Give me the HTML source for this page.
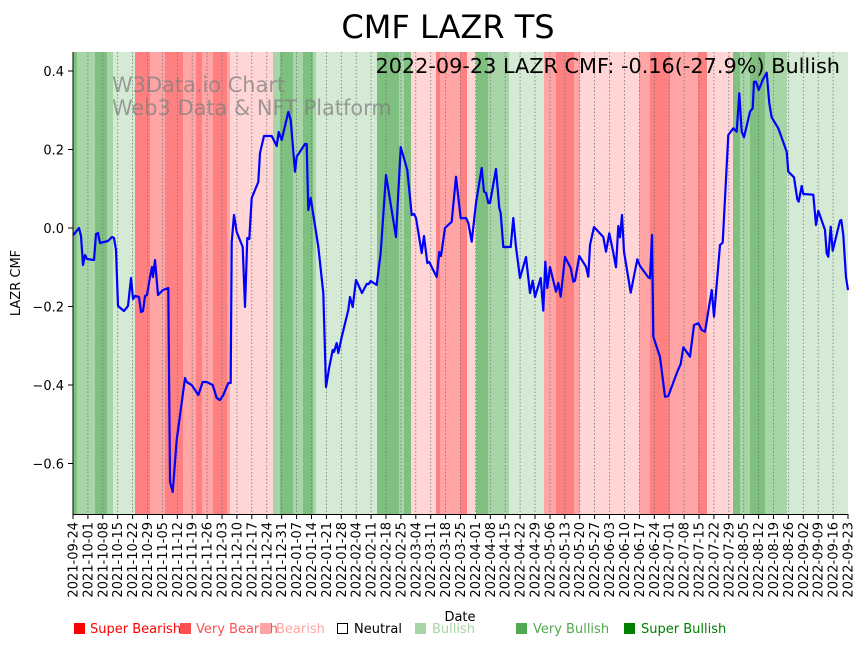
<!DOCTYPE html>
<html><head><meta charset="utf-8"><style>
html,body{margin:0;padding:0;background:#fff;}
svg{display:block;font-family:"DejaVu Sans","Liberation Sans",sans-serif;}
</style></head><body>
<svg width="864" height="646" viewBox="0 0 864 646" xmlns="http://www.w3.org/2000/svg">
<rect width="864" height="646" fill="#fff"/>
<text x="448" y="38" font-size="32" text-anchor="middle">CMF LAZR TS</text>
<g shape-rendering="crispEdges">
<rect x="73" y="52" width="4" height="462" fill="#7fbf7f"/>
<rect x="77" y="52" width="18" height="462" fill="#a8d5a8"/>
<rect x="95" y="52" width="12" height="462" fill="#7fbf7f"/>
<rect x="107" y="52" width="6" height="462" fill="#a8d5a8"/>
<rect x="113" y="52" width="22" height="462" fill="#d5ead5"/>
<rect x="135" y="52" width="15" height="462" fill="#ff8080"/>
<rect x="150" y="52" width="15" height="462" fill="#ffa5a5"/>
<rect x="165" y="52" width="18" height="462" fill="#ff8080"/>
<rect x="183" y="52" width="13" height="462" fill="#ffa5a5"/>
<rect x="196" y="52" width="6" height="462" fill="#ff8080"/>
<rect x="202" y="52" width="11" height="462" fill="#ffa5a5"/>
<rect x="213" y="52" width="14" height="462" fill="#ff8080"/>
<rect x="227" y="52" width="3" height="462" fill="#ffa5a5"/>
<rect x="230" y="52" width="43" height="462" fill="#ffd5d5"/>
<rect x="273" y="52" width="7" height="462" fill="#a8d5a8"/>
<rect x="280" y="52" width="13" height="462" fill="#7fbf7f"/>
<rect x="293" y="52" width="10" height="462" fill="#a8d5a8"/>
<rect x="303" y="52" width="10" height="462" fill="#7fbf7f"/>
<rect x="313" y="52" width="3" height="462" fill="#a8d5a8"/>
<rect x="316" y="52" width="61" height="462" fill="#d5ead5"/>
<rect x="377" y="52" width="22" height="462" fill="#7fbf7f"/>
<rect x="399" y="52" width="5" height="462" fill="#a8d5a8"/>
<rect x="404" y="52" width="7" height="462" fill="#7fbf7f"/>
<rect x="411" y="52" width="25" height="462" fill="#ffd5d5"/>
<rect x="436" y="52" width="4" height="462" fill="#ff8080"/>
<rect x="440" y="52" width="20" height="462" fill="#ffa5a5"/>
<rect x="460" y="52" width="7" height="462" fill="#ff8080"/>
<rect x="467" y="52" width="9" height="462" fill="#ffd5d5"/>
<rect x="476" y="52" width="12" height="462" fill="#7fbf7f"/>
<rect x="488" y="52" width="21" height="462" fill="#a8d5a8"/>
<rect x="509" y="52" width="35" height="462" fill="#d5ead5"/>
<rect x="544" y="52" width="12" height="462" fill="#ffa5a5"/>
<rect x="556" y="52" width="18" height="462" fill="#ff8080"/>
<rect x="574" y="52" width="6" height="462" fill="#ffa5a5"/>
<rect x="580" y="52" width="59" height="462" fill="#ffd5d5"/>
<rect x="639" y="52" width="11" height="462" fill="#ffa5a5"/>
<rect x="650" y="52" width="20" height="462" fill="#ff8080"/>
<rect x="670" y="52" width="28" height="462" fill="#ffa5a5"/>
<rect x="698" y="52" width="9" height="462" fill="#ff8080"/>
<rect x="707" y="52" width="26" height="462" fill="#ffd5d5"/>
<rect x="733" y="52" width="7" height="462" fill="#7fbf7f"/>
<rect x="740" y="52" width="10" height="462" fill="#a8d5a8"/>
<rect x="750" y="52" width="15" height="462" fill="#7fbf7f"/>
<rect x="765" y="52" width="22" height="462" fill="#a8d5a8"/>
<rect x="787" y="52" width="61" height="462" fill="#d5ead5"/>
</g>
<g stroke="#777" stroke-width="0.8" stroke-dasharray="1.5,2">
<path d="M87.9 52V514M102.8 52V514M117.7 52V514M132.6 52V514M147.5 52V514M162.4 52V514M177.3 52V514M192.2 52V514M207.1 52V514M222 52V514M236.9 52V514M251.8 52V514M266.8 52V514M281.7 52V514M296.6 52V514M311.5 52V514M326.4 52V514M341.3 52V514M356.2 52V514M371.1 52V514M386 52V514M400.9 52V514M415.8 52V514M430.7 52V514M445.6 52V514M460.5 52V514M475.4 52V514M490.3 52V514M505.2 52V514M520.1 52V514M535 52V514M550 52V514M564.8 52V514M579.7 52V514M594.6 52V514M609.5 52V514M624.4 52V514M639.4 52V514M654.3 52V514M669.2 52V514M684.1 52V514M699 52V514M713.9 52V514M728.8 52V514M743.7 52V514M758.6 52V514M773.5 52V514M788.4 52V514M803.3 52V514M818.2 52V514M833.1 52V514"/>
</g>
<g fill="#808080" fill-opacity="0.75" font-size="20.9">
<text x="112" y="92">W3Data.io Chart</text>
<text x="112" y="115">Web3 Data &amp; NFT Platform</text>
</g>
<text x="840" y="73" font-size="20.8" text-anchor="end">2022-09-23 LAZR CMF: -0.16(-27.9%) Bullish</text>
<polyline fill="none" stroke="#0000ff" stroke-width="2.2" stroke-linejoin="round" points="73.3,235 79,228 81,236 83,265 85,255 87,259 94,260 96,234 98,233 100,243 108,241 112,237 114,238 116,250 118,306 124,311 128,306 131,278 133,299 135,296 139,297 141,312 143,311 145,296 147,295 150,277 152,267 153,277 155,260 158,295 163,290 168.3,288 170,482 172.7,492 176.7,440 185,378 186.7,382 191.7,385 198.3,395 202.7,382 206.7,382 212.7,385 216.7,398 220,400 223.3,395 228.3,383 230.7,383 231.7,242 234,215 236.7,232 242.7,247 245,307 247.3,238 249.3,239 251.7,198 258.3,182 260,153 264,136 271.7,136 276.7,146 278.7,132 281.7,140 288.3,112 290.7,120 295,171.7 296.7,156.7 305,144 306.7,144 308.3,210 310.7,198 318.3,246.7 323.3,293 326,387 329.3,367 332.7,350 334,352 336.7,343 338.3,353 341.7,337 348.3,310 350,297 352.7,307 356,280 362,293 366.7,284 368.7,284 370.7,281 376.7,285 380.7,253 386,175 396,237 400.7,147 407.3,170 411.7,215 414,214 416,218 421.7,253 424,236 427.3,263 429.3,262 431.7,267 436.7,277 439.3,252 441,256 445,228 451.7,221.7 456,176.7 460.7,218.3 466,218 468.3,223 471.7,241.7 476,203 481.7,168 484,191.7 486,192.7 488.3,203 490,203 496,169 499.3,208 500.7,213 503.3,247 510.7,247 513.3,218 516,247 520,278 526,257 530,293 532.7,280.7 535,297 540.7,278 543.3,310.7 545.3,261.7 547.3,288 550,267 556,291.7 558.3,283 560.7,296.7 565,257 570.7,268 573.3,281.7 575,280.7 579.3,256 586,266.7 588.3,276.7 590,245 594,227 603.3,237 606,251.7 609.3,233.3 613.3,252.7 616,267.3 618.3,226 620,237.3 622,215 624,251.7 630.7,292.7 637.3,259.3 640,266 648.3,277.3 650,278.3 652,235 653.3,336.7 660,357 665,396.7 668.3,396 677.3,371.7 680.7,364 683.3,347.3 690,356.7 694,325 698.3,323.3 701.7,330 705,331.7 709.3,305 711.7,290 714,316.7 720,245 722.7,242.7 728.3,135 733.3,128.3 736.7,131.7 739.3,93.3 741.7,131.7 744,137.3 750,111.7 752.7,108.3 754,81.7 756,81.7 758.7,90 762.7,80 766.7,72.7 769.3,103.3 771.7,117.3 778.3,128.3 786.7,151.7 788.3,171.7 794,177.3 797.3,199.3 798.7,201.7 801.7,186 803.3,194 813.3,194.7 816,225 818.3,210.7 825,230 826.7,253.3 828.3,256.7 830.7,226.7 832.7,250.7 840,220.7 841.3,220 843.3,235 846,277.3 848,290"/>
<g stroke="#000" stroke-width="1" fill="none">
<path d="M73 52V514.5H848"/>
<path d="M68 71H73M68 149.5H73M68 228H73M68 306.5H73M68 385H73M68 463.5H73"/>
<path d="M73 514V519M87.9 514V519M102.8 514V519M117.7 514V519M132.6 514V519M147.5 514V519M162.4 514V519M177.3 514V519M192.2 514V519M207.1 514V519M222 514V519M236.9 514V519M251.8 514V519M266.8 514V519M281.7 514V519M296.6 514V519M311.5 514V519M326.4 514V519M341.3 514V519M356.2 514V519M371.1 514V519M386 514V519M400.9 514V519M415.8 514V519M430.7 514V519M445.6 514V519M460.5 514V519M475.4 514V519M490.3 514V519M505.2 514V519M520.1 514V519M535 514V519M550 514V519M564.8 514V519M579.7 514V519M594.6 514V519M609.5 514V519M624.4 514V519M639.4 514V519M654.3 514V519M669.2 514V519M684.1 514V519M699 514V519M713.9 514V519M728.8 514V519M743.7 514V519M758.6 514V519M773.5 514V519M788.4 514V519M803.3 514V519M818.2 514V519M833.1 514V519M848 514V519"/>
</g>
<g font-size="13" text-anchor="end">
<text x="64" y="76">0.4</text>
<text x="64" y="154.5">0.2</text>
<text x="64" y="233">0.0</text>
<text x="64" y="311.5">−0.2</text>
<text x="64" y="390">−0.4</text>
<text x="64" y="468.5">−0.6</text>
</g>
<text transform="translate(20,283) rotate(-90)" font-size="13" text-anchor="middle">LAZR CMF</text>
<g font-size="13" text-anchor="end">
<text transform="translate(77.5,522) rotate(-90)">2021-09-24</text>
<text transform="translate(92.4,522) rotate(-90)">2021-10-01</text>
<text transform="translate(107.3,522) rotate(-90)">2021-10-08</text>
<text transform="translate(122.2,522) rotate(-90)">2021-10-15</text>
<text transform="translate(137.1,522) rotate(-90)">2021-10-22</text>
<text transform="translate(152,522) rotate(-90)">2021-10-29</text>
<text transform="translate(166.9,522) rotate(-90)">2021-11-05</text>
<text transform="translate(181.8,522) rotate(-90)">2021-11-12</text>
<text transform="translate(196.7,522) rotate(-90)">2021-11-19</text>
<text transform="translate(211.6,522) rotate(-90)">2021-11-26</text>
<text transform="translate(226.5,522) rotate(-90)">2021-12-03</text>
<text transform="translate(241.4,522) rotate(-90)">2021-12-10</text>
<text transform="translate(256.3,522) rotate(-90)">2021-12-17</text>
<text transform="translate(271.3,522) rotate(-90)">2021-12-24</text>
<text transform="translate(286.2,522) rotate(-90)">2021-12-31</text>
<text transform="translate(301.1,522) rotate(-90)">2022-01-07</text>
<text transform="translate(316,522) rotate(-90)">2022-01-14</text>
<text transform="translate(330.9,522) rotate(-90)">2022-01-21</text>
<text transform="translate(345.8,522) rotate(-90)">2022-01-28</text>
<text transform="translate(360.7,522) rotate(-90)">2022-02-04</text>
<text transform="translate(375.6,522) rotate(-90)">2022-02-11</text>
<text transform="translate(390.5,522) rotate(-90)">2022-02-18</text>
<text transform="translate(405.4,522) rotate(-90)">2022-02-25</text>
<text transform="translate(420.3,522) rotate(-90)">2022-03-04</text>
<text transform="translate(435.2,522) rotate(-90)">2022-03-11</text>
<text transform="translate(450.1,522) rotate(-90)">2022-03-18</text>
<text transform="translate(465,522) rotate(-90)">2022-03-25</text>
<text transform="translate(479.9,522) rotate(-90)">2022-04-01</text>
<text transform="translate(494.8,522) rotate(-90)">2022-04-08</text>
<text transform="translate(509.7,522) rotate(-90)">2022-04-15</text>
<text transform="translate(524.6,522) rotate(-90)">2022-04-22</text>
<text transform="translate(539.5,522) rotate(-90)">2022-04-29</text>
<text transform="translate(554.5,522) rotate(-90)">2022-05-06</text>
<text transform="translate(569.3,522) rotate(-90)">2022-05-13</text>
<text transform="translate(584.2,522) rotate(-90)">2022-05-20</text>
<text transform="translate(599.1,522) rotate(-90)">2022-05-27</text>
<text transform="translate(614,522) rotate(-90)">2022-06-03</text>
<text transform="translate(628.9,522) rotate(-90)">2022-06-10</text>
<text transform="translate(643.9,522) rotate(-90)">2022-06-17</text>
<text transform="translate(658.8,522) rotate(-90)">2022-06-24</text>
<text transform="translate(673.7,522) rotate(-90)">2022-07-01</text>
<text transform="translate(688.6,522) rotate(-90)">2022-07-08</text>
<text transform="translate(703.5,522) rotate(-90)">2022-07-15</text>
<text transform="translate(718.4,522) rotate(-90)">2022-07-22</text>
<text transform="translate(733.3,522) rotate(-90)">2022-07-29</text>
<text transform="translate(748.2,522) rotate(-90)">2022-08-05</text>
<text transform="translate(763.1,522) rotate(-90)">2022-08-12</text>
<text transform="translate(778,522) rotate(-90)">2022-08-19</text>
<text transform="translate(792.9,522) rotate(-90)">2022-08-26</text>
<text transform="translate(807.8,522) rotate(-90)">2022-09-02</text>
<text transform="translate(822.7,522) rotate(-90)">2022-09-09</text>
<text transform="translate(837.6,522) rotate(-90)">2022-09-16</text>
<text transform="translate(852.5,522) rotate(-90)">2022-09-23</text>
</g>
<text x="460" y="621" font-size="13" text-anchor="middle">Date</text>
<g font-size="13">
<rect x="74" y="623" width="11" height="11" fill="#ff0000"/><text x="90" y="633" fill="#ff0000">Super Bearish</text>
<rect x="180" y="623" width="11" height="11" fill="#ff5050"/><text x="196" y="633" fill="#ff5050">Very Bearish</text>
<rect x="260" y="623" width="11" height="11" fill="#ffa5a5"/><text x="276" y="633" fill="#ffa5a5">Bearish</text>
<rect x="337.5" y="623.5" width="10" height="10" fill="none" stroke="#000"/><text x="354" y="633" fill="#000">Neutral</text>
<rect x="415" y="623" width="11" height="11" fill="#a8d5a8"/><text x="432" y="633" fill="#a8d5a8">Bullish</text>
<rect x="516" y="623" width="11" height="11" fill="#50a850"/><text x="533" y="633" fill="#50a850">Very Bullish</text>
<rect x="624" y="623" width="11" height="11" fill="#008000"/><text x="641" y="633" fill="#008000">Super Bullish</text>
</g>
</svg>
</body></html>
